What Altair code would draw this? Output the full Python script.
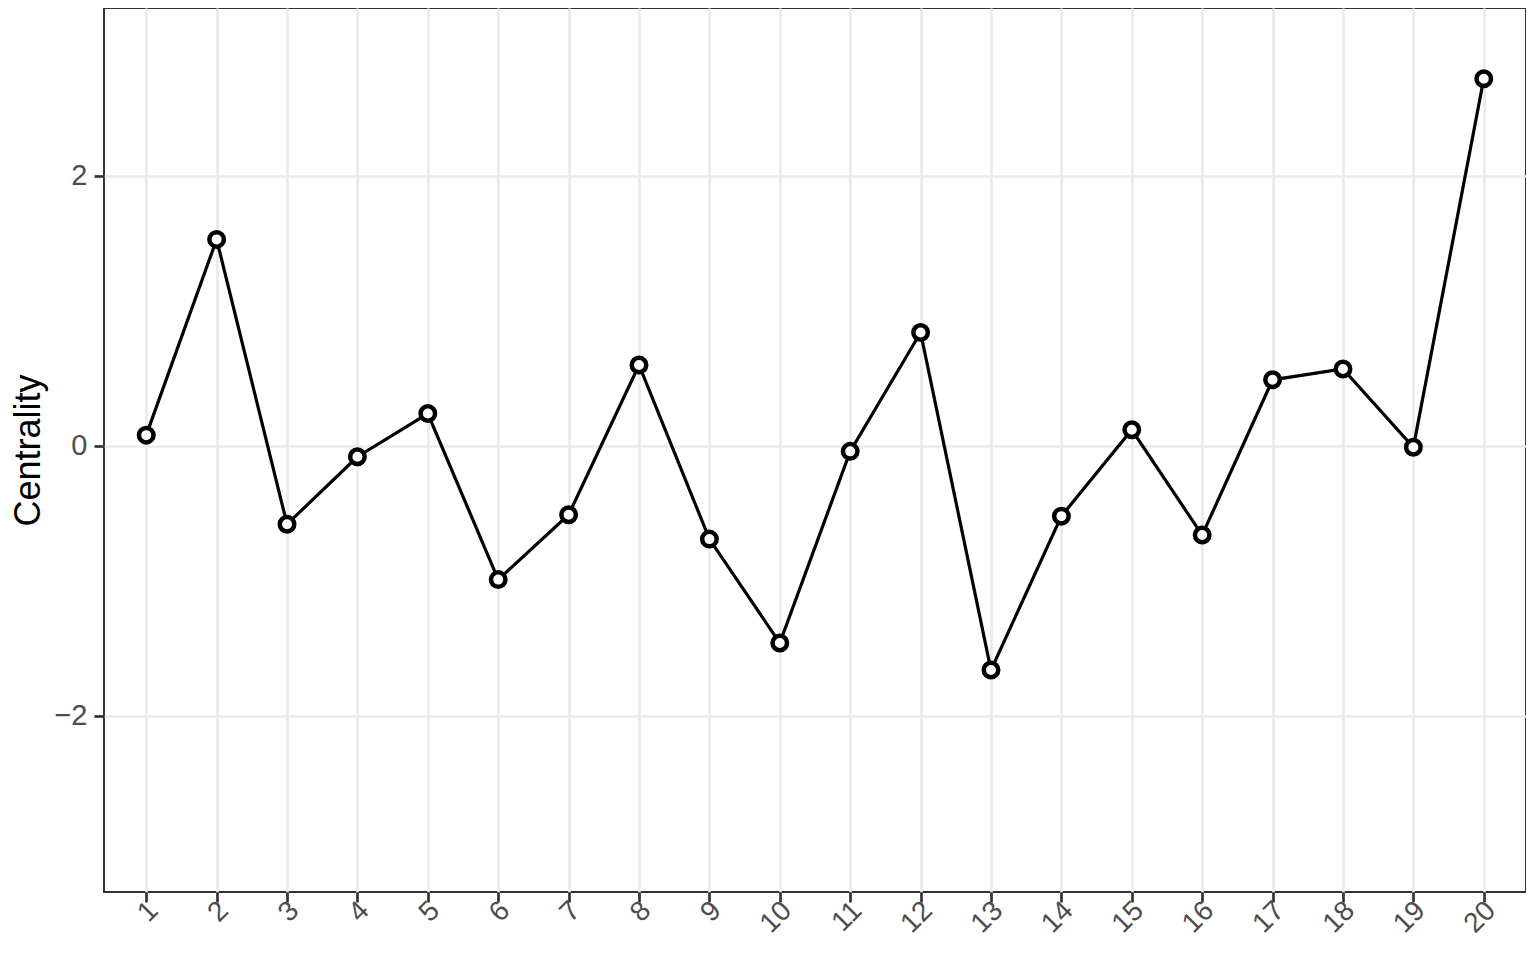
import altair as alt
import pandas as pd

nodes = [str(i) for i in range(1, 21)]
centrality = [0.08, 1.53, -0.58, -0.08, 0.24, -0.99, -0.51, 0.60, -0.69, -1.46,
              -0.04, 0.84, -1.66, -0.52, 0.12, -0.66, 0.49, 0.57, -0.01, 2.72]

df = pd.DataFrame({"node": nodes, "Centrality": centrality})

FONT = "Liberation Sans"

x = alt.X("node:O", sort=nodes, title=None,
          scale=alt.Scale(padding=0.6),
          axis=alt.Axis(labelAngle=315, labelAlign="right", labelBaseline="middle",
                        labelFontSize=28, labelColor="#4d4d4d", labelFont=FONT,
                        labelPadding=4, labelOffset=7, tickSize=10, tickWidth=2.7,
                        tickColor="#333333",
                        domain=False, grid=True, gridColor="#ebebeb", gridWidth=2.7))
y = alt.Y("Centrality:Q", title="Centrality",
          scale=alt.Scale(domain=[-3.304, 3.244], nice=False, zero=False),
          axis=alt.Axis(values=[-2, 0, 2], format="d",
                        labelFontSize=29, labelColor="#4d4d4d", labelFont=FONT,
                        labelPadding=7, tickSize=10, tickWidth=2.7, tickColor="#333333",
                        domain=False, grid=True, gridColor="#ebebeb", gridWidth=2.7,
                        titleFont=FONT, titleFontSize=36, titleFontWeight="normal",
                        titleColor="#000000", titlePadding=6))

line = alt.Chart(df).mark_line(color="black", strokeWidth=3.2).encode(x=x, y=y)
pts = alt.Chart(df).mark_point(filled=False, fill="white", fillOpacity=1, color="black",
                               strokeWidth=4.5, size=210, opacity=1).encode(x=x, y=y)

chart = (line + pts).properties(
    width=1422, height=884,
    autosize=alt.AutoSizeParams(type="none"),
    padding={"left": 96, "top": 0, "right": 0, "bottom": 54},
).configure_view(stroke="#333333", strokeWidth=2)

chart.save("out.html", embed_options={"renderer": "svg", "actions": False})
